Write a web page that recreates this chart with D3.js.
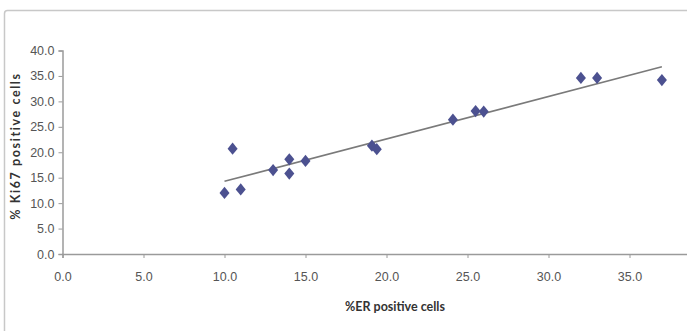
<!DOCTYPE html>
<html>
<head>
<meta charset="utf-8">
<script src="https://cdn.jsdelivr.net/npm/d3@7"></script>
<style>
  body { margin: 0; background: #fff; }
  svg { display: block; font-family: Lato, "Open Sans", sans-serif; }
</style>
</head>
<body>
<svg width="687" height="331"></svg>
<script>
// %ER positive cells vs % Ki67 positive cells
var erValues = [10.0, 10.5, 11.0, 13.0, 14.0, 14.0, 15.0, 19.1, 19.4, 24.1, 25.5, 26.0, 32.0, 33.0, 37.0];
var ki67Values = [12.0, 20.7, 12.7, 16.5, 18.6, 15.8, 18.3, 21.3, 20.6, 26.4, 28.1, 28.0, 34.6, 34.6, 34.2];
var xTicks = [0, 5, 10, 15, 20, 25, 30, 35];
var yTicks = [0, 5, 10, 15, 20, 25, 30, 35, 40];

var svg = d3.select("svg");

// outer chart frame (cropped on the right and bottom)
svg.append("rect")
    .attr("x", 4.5).attr("y", 10.5)
    .attr("width", 700).attr("height", 340)
    .attr("rx", 3)
    .attr("fill", "none")
    .attr("stroke", "#c8c8c8")
    .attr("stroke-width", 1.5);

var x = d3.scaleLinear().domain([0, 40]).range([62.5, 710.5]);
var y = d3.scaleLinear().domain([0, 40]).range([254, 50.5]);

var data = erValues.map(function (v, i) { return [v, ki67Values[i]]; });

// y axis
var yAxis = svg.append("g")
    .attr("transform", "translate(" + x(0) + ",0)")
    .call(d3.axisLeft(y).tickValues(yTicks).tickFormat(d3.format(".1f")).tickSize(4).tickPadding(4));

// x axis
var xAxis = svg.append("g")
    .attr("transform", "translate(0," + y(0) + ")")
    .call(d3.axisBottom(x).tickValues(xTicks).tickFormat(d3.format(".1f")).tickSize(4).tickPadding(14));

[xAxis, yAxis].forEach(function (a) {
    a.select(".domain").attr("stroke", "#9a9a9a").attr("stroke-width", 1.5);
    a.selectAll(".tick line").attr("stroke", "#9a9a9a");
    a.selectAll(".tick text").attr("fill", "#555").attr("font-size", 12.5);
});

// linear trend line (least squares)
var mx = d3.mean(erValues), my = d3.mean(ki67Values);
var sxy = d3.sum(data, function (d) { return (d[0] - mx) * (d[1] - my); });
var sxx = d3.sum(data, function (d) { return (d[0] - mx) * (d[0] - mx); });
var slope = sxy / sxx, intercept = my - slope * mx;
var xr = d3.extent(erValues);

svg.append("path")
    .datum(xr.map(function (v) { return [v, intercept + slope * v]; }))
    .attr("fill", "none")
    .attr("stroke", "#7a7a7a")
    .attr("stroke-width", 1.6)
    .attr("d", d3.line().x(function (d) { return x(d[0]); }).y(function (d) { return y(d[1]); }));

// diamond markers
var diamond = {
    draw: function (ctx, size) {
        var h = Math.sqrt(size) / 2, w = h * 0.82;
        ctx.moveTo(0, -h); ctx.lineTo(w, 0); ctx.lineTo(0, h); ctx.lineTo(-w, 0); ctx.closePath();
    }
};

svg.append("g").selectAll("path")
    .data(data)
    .join("path")
    .attr("transform", function (d) { return "translate(" + x(d[0]) + "," + y(d[1]) + ")"; })
    .attr("d", d3.symbol().type(diamond).size(150))
    .attr("fill", "#4c5190");

// axis titles
svg.append("text")
    .attr("x", 395).attr("y", 311)
    .attr("text-anchor", "middle")
    .attr("font-size", 12.5).attr("font-weight", "bold")
    .attr("fill", "#333")
    .text("%ER positive cells");

svg.append("text")
    .attr("transform", "translate(20,146) rotate(-90)")
    .attr("text-anchor", "middle")
    .attr("font-size", 12.5).attr("font-weight", "bold")
    .attr("letter-spacing", 1.6)
    .attr("fill", "#333")
    .text("% Ki67 positive cells");
</script>
</body>
</html>
